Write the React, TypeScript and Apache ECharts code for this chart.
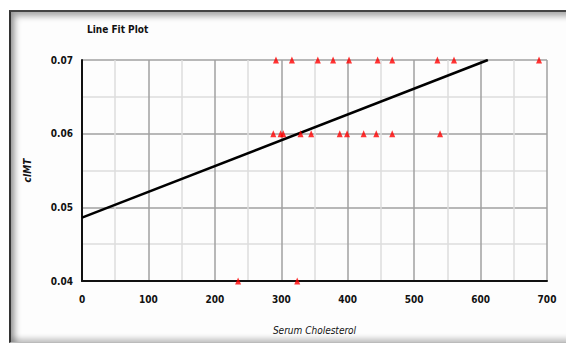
import React, { useEffect, useRef } from "react";
import * as echarts from "echarts";

const title = "Line Fit Plot";
const xAxisName = "Serum Cholesterol";
const yAxisName = "cIMT";

// Observed points grouped by their cIMT value
const cholAt007 = [292, 316, 355, 378, 402, 445, 467, 535, 560, 688];
const cholAt006 = [288, 299, 303, 329, 345, 388, 399, 424, 443, 467, 539];
const cholAt004 = [235, 324];
const levels = [0.07, 0.06, 0.04];

// Fitted regression line endpoints
const fitX = [0, 611];
const fitY = [0.0486, 0.07];

const FONT = "'Liberation Sans Narrow', 'DejaVu Sans Condensed', Arial, sans-serif";

export default function App() {
  const ref = useRef<HTMLDivElement>(null);

  useEffect(() => {
    if (!ref.current) return;
    const chart = echarts.init(ref.current, null, { renderer: "svg" });
    const groups = [cholAt007, cholAt006, cholAt004];
    const scatterData: number[][] = [];
    groups.forEach((g, i) => g.forEach((x) => scatterData.push([x, levels[i]])));
    const lineData = fitX.map((x, i) => [x, fitY[i]]);

    chart.setOption({
      animation: false,
      backgroundColor: "transparent",
      title: {
        text: title,
        left: 82,
        top: 19,
        textStyle: { fontFamily: FONT, fontSize: 10, fontWeight: "bold", color: "#111" },
      },
      grid: { left: 82, right: 19, top: 60, bottom: 68 },
      xAxis: {
        type: "value",
        min: 0,
        max: 700,
        interval: 100,
        name: xAxisName,
        nameLocation: "middle",
        nameGap: 44,
        nameTextStyle: { fontFamily: FONT, fontSize: 10, fontStyle: "italic", color: "#111" },
        axisLine: { show: true, lineStyle: { color: "#111", width: 2 } },
        axisTick: { show: false },
        axisLabel: { margin: 13, fontFamily: FONT, fontSize: 10, fontWeight: "bold", color: "#111" },
        splitLine: { show: true, lineStyle: { color: "#a0a0a0", width: 1.5 } },
        minorTick: { show: false, splitNumber: 2 },
        minorSplitLine: { show: true, lineStyle: { color: "#dcdcdc", width: 1.5 } },
      },
      yAxis: {
        type: "value",
        min: 0.04,
        max: 0.07,
        interval: 0.01,
        name: yAxisName,
        nameLocation: "middle",
        nameGap: 50,
        nameTextStyle: { fontFamily: FONT, fontSize: 10, fontStyle: "italic", fontWeight: "bold", color: "#111" },
        axisLine: { show: true, lineStyle: { color: "#111", width: 2 } },
        axisTick: { show: false },
        axisLabel: { margin: 9, fontFamily: FONT, fontSize: 10, fontWeight: "bold", color: "#111", formatter: (v: number) => v.toFixed(2) },
        splitLine: { show: true, lineStyle: { color: "#a0a0a0", width: 1.5 } },
        minorTick: { show: false, splitNumber: 2 },
        minorSplitLine: { show: true, lineStyle: { color: "#dcdcdc", width: 1.5 } },
      },
      series: [
        {
          type: "line",
          data: lineData,
          symbol: "none",
          lineStyle: { color: "#000", width: 2.5 },
          z: 2,
        },
        {
          type: "scatter",
          data: scatterData,
          symbol: "triangle",
          symbolSize: [6, 7],
          itemStyle: { color: "#ff0000" },
          z: 3,
        },
      ],
    });
    return () => chart.dispose();
  }, []);

  return (
    <div style={{ position: "absolute", left: 0, top: 0, width: 566, height: 349, overflow: "hidden", background: "#fff" }}>
      <div
        style={{
          position: "absolute",
          left: 9,
          top: 10,
          width: 620,
          height: 330,
          borderLeft: "2px solid #333",
          borderTop: "2px solid #444",
          borderBottom: "1px solid #bbb",
          boxShadow: "inset 4px 4px 6px rgba(0,0,0,0.35), inset 0 -4px 5px rgba(0,0,0,0.2)",
          background: "#fdfdfd",
        }}
      />
      <div ref={ref} style={{ position: "absolute", left: 0, top: 0, width: 566, height: 349 }} />
    </div>
  );
}
